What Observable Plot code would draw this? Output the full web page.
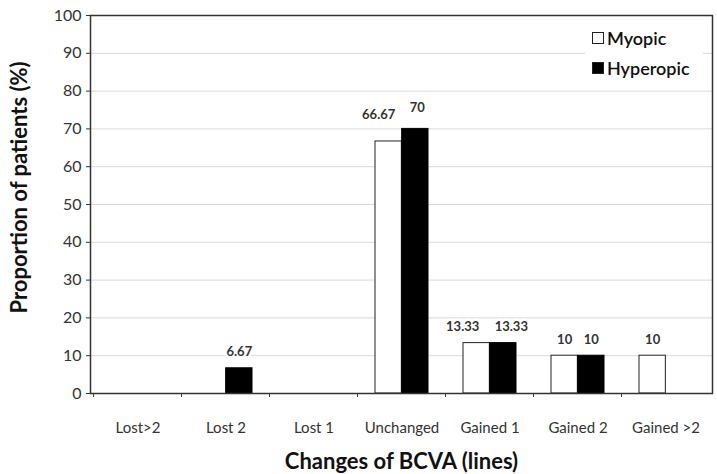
<!DOCTYPE html>
<html>
<head>
<meta charset="utf-8">
<script src="https://cdn.jsdelivr.net/npm/d3@7"></script>
<script src="https://cdn.jsdelivr.net/npm/@observablehq/plot@0.6"></script>
<style>
  body { margin: 0; background: #fff; }
  #chart { position: relative; width: 717px; height: 474px; font-family: Lato, "Open Sans", sans-serif; }
  #chart svg { display: block; }
  .legend { position: absolute; left: 585px; top: 17px; width: 118px; height: 64px; background: #fff; }
  .legend .item { position: absolute; left: 7px; display: flex; align-items: center; font-size: 18px; font-weight: 600; color: #111; }
  .legend .sw { width: 12px; height: 12px; box-sizing: border-box; border: 1px solid #222; margin-right: 3px; }
</style>
</head>
<body>
<div id="chart"></div>
<script>
// Change in best-corrected visual acuity, share of patients per group (%)
const categories = ["Lost>2", "Lost 2", "Lost 1", "Unchanged", "Gained 1", "Gained 2", "Gained >2"];
const groups = ["Myopic", "Hyperopic"];
const myopic = [0, 0, 0, 66.67, 13.33, 10, 10];
const hyperopic = [0, 6.67, 0, 70, 13.33, 10, 0];
const yTicks = [0, 10, 20, 30, 40, 50, 60, 70, 80, 90, 100];
const groupFill = ["#ffffff", "#000000"];

const rows = categories.flatMap((c, i) => [
  {category: c, group: "Myopic", value: myopic[i]},
  {category: c, group: "Hyperopic", value: hyperopic[i]}
]);

const width = 717, height = 474;
const marginLeft = 90, marginRight = 5, marginTop = 15, marginBottom = 81;
const step = (width - marginLeft - marginRight) / categories.length;
const paddingInner = 0.4;
const half = step * (1 - paddingInner) / 2;   // width of one bar in a pair

const shown = rows.filter(d => d.value > 0);
const my = shown.filter(d => d.group === "Myopic");
const hy = shown.filter(d => d.group === "Hyperopic");
// pairs whose value labels sit close together get spread apart
const nudged = new Set(["Unchanged", "Gained 1"]);
const plain = d => !nudged.has(d.category);
const at = c => d => d.category === c;

const lbl = {x: "category", y: "value", text: d => String(d.value), fontSize: 13, fontWeight: "bold", fill: "#333", stroke: "#fff", strokeWidth: 5};

const chart = Plot.plot({
  width, height, marginLeft, marginRight, marginTop, marginBottom,
  style: {fontFamily: "Lato, 'Open Sans', sans-serif", background: "#fff"},
  x: {type: "band", domain: categories, paddingInner, paddingOuter: paddingInner / 2, label: null},
  y: {domain: [0, 100], label: null},
  color: {domain: groups, range: groupFill},
  marks: [
    Plot.ruleY(yTicks.filter(t => t > 0 && t < 100), {stroke: "#d9d9d9", strokeWidth: 1}),
    Plot.barY(my, {x: "category", y: "value", fill: "group", stroke: "#222", strokeWidth: 1, insetRight: half}),
    Plot.barY(hy, {x: "category", y: "value", fill: "group", stroke: "#000", strokeWidth: 1, insetLeft: half}),
    Plot.text(my.filter(plain), {...lbl, dx: -half / 2, dy: -16}),
    Plot.text(hy.filter(plain), {...lbl, dx: half / 2, dy: -16}),
    Plot.text(my.filter(at("Unchanged")), {...lbl, dx: -half / 2 - 10, dy: -27}),
    Plot.text(hy.filter(at("Unchanged")), {...lbl, dx: half / 2 + 2, dy: -21}),
    Plot.text(my.filter(at("Gained 1")), {...lbl, dx: -half / 2 - 14, dy: -16}),
    Plot.text(hy.filter(at("Gained 1")), {...lbl, dx: half / 2 + 8, dy: -16}),
    Plot.axisY({ticks: yTicks, tickSize: 4, tickPadding: 5, fontSize: 16, label: null, color: "#333"}),
    Plot.axisX({tickSize: 0, tickPadding: 29, fontSize: 15, label: null, color: "#333"}),
    Plot.ruleX(categories, {x: d => d, y1: 0, y2: 0, dx: -step / 2, insetBottom: -4, stroke: "#333"}),
    Plot.frame({stroke: "#333", strokeWidth: 1.5}),
    Plot.text(["Proportion of patients (%)"], {text: d => d, frameAnchor: "left", textAnchor: "middle", rotate: -90, dx: -71, dy: -17, fontSize: 22, fontWeight: "bold", fill: "#111"}),
    Plot.text(["Changes of BCVA (lines)"], {text: d => d, frameAnchor: "bottom", dy: 75, fontSize: 22, fontWeight: "bold", fill: "#111"})
  ]
});

const root = document.getElementById("chart");
root.appendChild(chart);

// legend box inside the plot area, top right
const legend = document.createElement("div");
legend.className = "legend";
groups.forEach((g, i) => {
  const item = document.createElement("div");
  item.className = "item";
  item.style.top = (i === 0 ? 10 : 40) + "px";
  const sw = document.createElement("span");
  sw.className = "sw";
  sw.style.background = groupFill[i];
  const label = document.createElement("span");
  label.textContent = g;
  item.appendChild(sw);
  item.appendChild(label);
  legend.appendChild(item);
});
root.appendChild(legend);
</script>
</body>
</html>
